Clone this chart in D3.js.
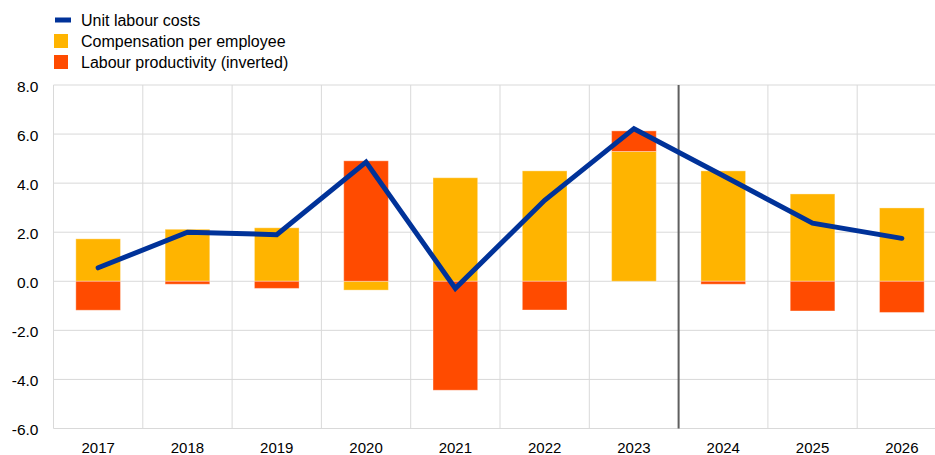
<!DOCTYPE html>
<html>
<head>
<meta charset="utf-8">
<script src="https://cdn.jsdelivr.net/npm/d3@7"></script>
<style>
  body { margin: 0; background: #fff; }
  svg { display: block; font-family: "Liberation Sans", Arial, sans-serif; }
</style>
</head>
<body>
<svg id="chart" width="935" height="455"></svg>
<script>
const years = ["2017", "2018", "2019", "2020", "2021", "2022", "2023", "2024", "2025", "2026"];
const unitLabourCosts = [0.55, 2.0, 1.9, 4.86, -0.29, 3.3, 6.22, 4.3, 2.37, 1.75];
const compensation = [1.73, 2.12, 2.18, -0.36, 4.22, 4.5, 5.29, 4.5, 3.56, 2.99];
const productivityInv = [-1.18, -0.12, -0.29, 4.91, -4.44, -1.17, 0.84, -0.12, -1.21, -1.27];
const yTicks = [-6, -4, -2, 0, 2, 4, 6, 8];
const projectionStart = "2024";

const colors = { ulc: "#003299", comp: "#ffb400", prod: "#ff4b00", grid: "#d9d9d9", text: "#000" };

const svg = d3.select("#chart");
const margin = { top: 85, left: 53.5, bottom: 428.5 };
const plotRight = 946.5;

const x = d3.scaleBand().domain(years).range([margin.left, plotRight]).paddingInner(0).paddingOuter(0);
const y = d3.scaleLinear().domain([-6, 8]).range([margin.bottom, margin.top]);

// horizontal gridlines
svg.append("g")
  .selectAll("line")
  .data(yTicks)
  .join("line")
  .attr("x1", margin.left)
  .attr("x2", plotRight)
  .attr("y1", (d) => y(d))
  .attr("y2", (d) => y(d))
  .attr("stroke", colors.grid)
  .attr("stroke-width", 1);

// vertical gridlines at band edges
const edges = years.map((d) => x(d)).concat([plotRight]);
svg.append("g")
  .selectAll("line")
  .data(edges)
  .join("line")
  .attr("x1", (d) => d)
  .attr("x2", (d) => d)
  .attr("y1", margin.top)
  .attr("y2", margin.bottom)
  .attr("stroke", colors.grid)
  .attr("stroke-width", 1);

// y tick labels
svg.append("g")
  .selectAll("text")
  .data(yTicks)
  .join("text")
  .attr("x", 38.5)
  .attr("y", (d) => y(d))
  .attr("dy", "0.45em")
  .attr("text-anchor", "end")
  .attr("font-size", 15.5)
  .attr("fill", colors.text)
  .text((d) => d.toFixed(1));

// x labels
svg.append("g")
  .selectAll("text")
  .data(years)
  .join("text")
  .attr("x", (d) => x(d) + x.bandwidth() / 2)
  .attr("y", 453)
  .attr("text-anchor", "middle")
  .attr("font-size", 15)
  .attr("fill", colors.text)
  .text((d) => d);

// stacked bars (diverging)
const table = years.map((yr, i) => ({ year: yr, comp: compensation[i], prod: productivityInv[i] }));
const stack = d3.stack().keys(["comp", "prod"]).offset(d3.stackOffsetDiverging);
const series = stack(table);
const barW = x.bandwidth() * 0.5;

svg.append("g")
  .selectAll("g")
  .data(series)
  .join("g")
  .attr("fill", (s) => (s.key === "comp" ? colors.comp : colors.prod))
  .selectAll("rect")
  .data((s) => s)
  .join("rect")
  .attr("x", (d) => x(d.data.year) + (x.bandwidth() - barW) / 2)
  .attr("width", barW)
  .attr("y", (d) => y(Math.max(d[0], d[1])))
  .attr("height", (d) => Math.abs(y(d[0]) - y(d[1])))
  .attr("stroke", "#fff")
  .attr("stroke-opacity", 0.35)
  .attr("stroke-width", 1);

// projection separator
svg.append("line")
  .attr("x1", x(projectionStart))
  .attr("x2", x(projectionStart))
  .attr("y1", margin.top)
  .attr("y2", margin.bottom)
  .attr("stroke", "#5f5f5f")
  .attr("stroke-width", 2);

// unit labour costs line
const line = d3.line()
  .x((d, i) => x(years[i]) + x.bandwidth() / 2)
  .y((d) => y(d));

svg.append("path")
  .datum(unitLabourCosts)
  .attr("fill", "none")
  .attr("stroke", colors.ulc)
  .attr("stroke-width", 5)
  .attr("stroke-linejoin", "miter")
  .attr("stroke-linecap", "round")
  .attr("d", line);

// legend
const legend = svg.append("g");
const legendItems = [
  { label: "Unit labour costs", color: colors.ulc, type: "line" },
  { label: "Compensation per employee", color: colors.comp, type: "box" },
  { label: "Labour productivity (inverted)", color: colors.prod, type: "box" },
];
legendItems.forEach((item, i) => {
  const cy = 20 + i * 21;
  if (item.type === "line") {
    legend.append("rect").attr("x", 55).attr("y", cy - 2.5).attr("width", 16).attr("height", 5).attr("fill", item.color);
  } else {
    legend.append("rect").attr("x", 54).attr("y", cy - 7).attr("width", 14).attr("height", 14).attr("fill", item.color);
  }
  legend.append("text")
    .attr("x", 81)
    .attr("y", cy)
    .attr("dy", "0.36em")
    .attr("font-size", 16)
    .attr("fill", colors.text)
    .text(item.label);
});
</script>
</body>
</html>
